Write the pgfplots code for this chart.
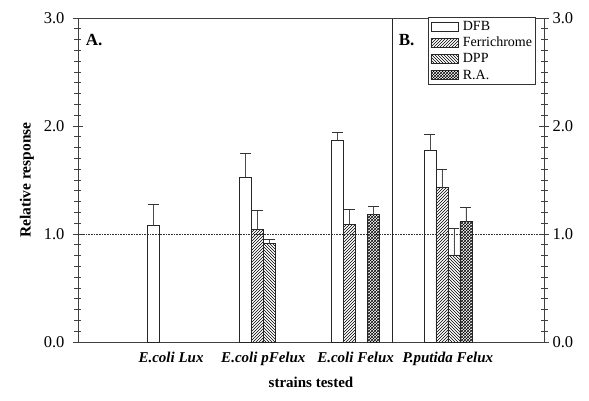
\documentclass[border=0pt]{standalone}
\usepackage{pgfplots}
\pgfplotsset{compat=1.18}
\usepackage{fontspec}
\setmainfont{Liberation Serif}
\usetikzlibrary{patterns}
\begin{document}
\begin{tikzpicture}
\pgfplotsset{
  common/.style={
    width=466pt, height=324pt, scale only axis,
    xmin=-0.008, xmax=5.041, ymin=0, ymax=3,
    ytick={0,1,2,3}, minor y tick num=9,
    tick align=center, major tick length=10pt, minor tick length=7pt,
    yticklabel style={/pgf/number format/fixed, /pgf/number format/fixed zerofill, /pgf/number format/precision=1, /pgf/number format/assume math mode=true},
    tick label style={font=\fontsize{16.5}{19}\selectfont},
    axis line style={draw=black!75, line width=0.8pt},
    every tick/.style={draw=black!75, line width=0.7pt},
  },
  mybar/.style={ybar, bar width=12pt, bar shift=0pt, draw=black!85, line width=0.8pt,
    error bars/y dir=plus, error bars/y explicit,
    error bars/error bar style={draw=black!70, line width=0.8pt},
    error bars/error mark options={rotate=90, mark size=5.5pt, draw=black!80, line width=0.8pt}},
}
\begin{axis}[common,
  axis y line*=left, axis x line*=bottom,
  yticklabel style={xshift=-5pt},
  xtick={1,2,3,4}, x tick style={draw=none},
  xticklabels={\textbf{\textit{E.coli Lux}}, \textbf{\textit{E.coli pFelux}}, \textbf{\textit{E.coli Felux}}, \textbf{\textit{P.putida Felux}}},
  xticklabel style={font=\fontsize{15}{18}\selectfont, yshift=-2pt},
  xlabel={\textbf{strains tested}}, xlabel style={font=\fontsize{15}{18}\selectfont, yshift=-4pt},
  ylabel={\textbf{Relative response}}, ylabel style={font=\fontsize{15.5}{18}\selectfont, yshift=3pt},
  legend style={at={(rel axis cs:0.983,1.003)}, anchor=north east, draw=black!80, line width=0.6pt,
    font=\fontsize{14}{15}\selectfont, inner sep=2.5pt, row sep=3pt,
    nodes={inner sep=1.2pt}},
  legend cell align=left,
  legend image code/.code={\draw[#1, line width=0.6pt] (0pt,-4.5pt) rectangle (27pt,4.5pt);},
  /tikz/every odd column/.append style={column sep=3.5pt},
]
\addplot[mybar, fill=white] coordinates {
  (0.805,1.08) +- (0,0.19)
  (1.805,1.525) +- (0,0.22)
  (2.805,1.87) +- (0,0.07)
  (3.805,1.775) +- (0,0.145)
};
\addlegendentry{DFB}
\addplot[mybar, pattern=north east lines] coordinates {
  (1.935,1.046) +- (0,0.174)
  (2.935,1.09) +- (0,0.135)
  (3.935,1.43) +- (0,0.17)
};
\addlegendentry{Ferrichrome}
\addplot[mybar, pattern=north west lines] coordinates {
  (2.065,0.914) +- (0,0.036)
  (4.065,0.806) +- (0,0.247)
};
\addlegendentry{DPP}
\addplot[mybar, pattern=crosshatch] coordinates {
  (3.195,1.18) +- (0,0.08)
  (4.195,1.114) +- (0,0.129)
};
\addlegendentry{R.A.}
\draw[densely dotted, black!80, line width=0.6pt] (axis cs:-0.008,1) -- (axis cs:5.041,1);
\draw[black!85, line width=1.4pt] (axis cs:3.402,-0.04) -- (axis cs:3.402,3);
\draw[black!75, line width=0.8pt] (rel axis cs:0,1) -- (rel axis cs:1,1);
\node[anchor=west, font=\fontsize{17}{19}\selectfont\bfseries] at (axis cs:0.04,2.8) {A.};
\node[anchor=west, font=\fontsize{17}{19}\selectfont\bfseries] at (axis cs:3.43,2.8) {B.};
\coordinate (sw) at (rel axis cs:0,0);
\end{axis}
\begin{axis}[common,
  axis y line*=right, axis x line=none,
]
\addplot[draw=none] coordinates {(1,1)};
\end{axis}
\path (sw) ++(-78pt,-58pt) rectangle ++(589pt,400pt);
\end{tikzpicture}
\end{document}
